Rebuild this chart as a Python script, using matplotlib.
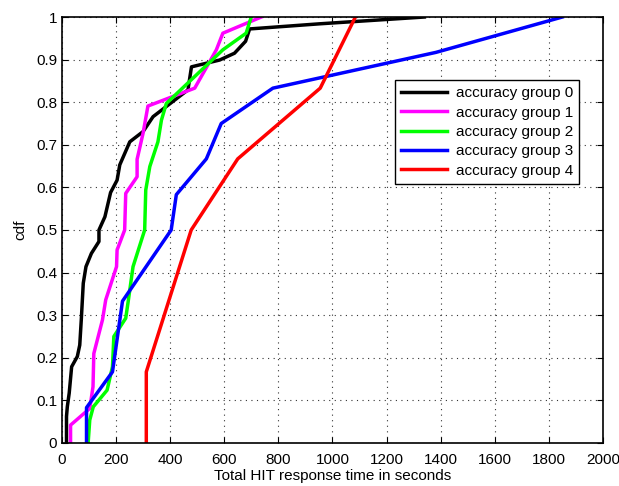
import matplotlib.pyplot as plt

plt.rcParams['font.family'] = ['Liberation Sans', 'DejaVu Sans']

# response time (s) vs cdf for each accuracy group
g0_x = [17, 17, 20, 27, 36, 57, 66, 72, 79, 89, 109, 137, 137, 159, 180, 204, 214, 251, 300, 337, 466, 479, 583, 638, 679, 694, 952, 1340]
g0_y = [0, 0.062, 0.085, 0.117, 0.179, 0.203, 0.23, 0.293, 0.375, 0.414, 0.445, 0.473, 0.5, 0.531, 0.588, 0.617, 0.653, 0.707, 0.731, 0.766, 0.829, 0.883, 0.899, 0.915, 0.943, 0.972, 0.984, 1.0]

g1_x = [32, 32, 103, 115, 118, 150, 162, 202, 204, 232, 236, 278, 278, 300, 318, 491, 571, 595, 737]
g1_y = [0, 0.042, 0.081, 0.132, 0.21, 0.289, 0.336, 0.414, 0.453, 0.5, 0.586, 0.625, 0.666, 0.727, 0.791, 0.833, 0.923, 0.962, 1.0]

g2_x = [97, 103, 116, 167, 187, 192, 236, 245, 263, 306, 310, 325, 355, 368, 386, 595, 681, 700]
g2_y = [0, 0.054, 0.085, 0.124, 0.179, 0.25, 0.293, 0.332, 0.414, 0.5, 0.594, 0.649, 0.707, 0.758, 0.797, 0.923, 0.962, 1.0]

g3_x = [91, 91, 187, 224, 404, 423, 534, 589, 780, 1383, 1850]
g3_y = [0, 0.083, 0.167, 0.333, 0.5, 0.583, 0.667, 0.75, 0.833, 0.917, 1.0]

g4_x = [312, 312, 478, 650, 955, 1085]
g4_y = [0, 0.167, 0.5, 0.667, 0.833, 1.0]

series = [(g0_x, g0_y, 'k'), (g1_x, g1_y, '#ff00ff'), (g2_x, g2_y, '#00ff00'),
          (g3_x, g3_y, '#0000ff'), (g4_x, g4_y, '#ff0000')]

fig = plt.figure(figsize=(6.19, 4.86), dpi=100)
ax = fig.add_axes([0.100, 0.0885, 0.874, 0.8765])

for i, (x, y, c) in enumerate(series):
    ax.plot(x, y, color=c, lw=2.5, label=f'accuracy group {i}')

ax.set_xlim(0, 2000)
ax.set_ylim(0, 1)
ax.set_xticks(range(0, 2001, 200))
ax.set_yticks([i / 10 for i in range(11)])
ax.set_yticklabels(['0', '0.1', '0.2', '0.3', '0.4', '0.5', '0.6', '0.7', '0.8', '0.9', '1'])
ax.tick_params(direction='in', top=True, right=True, labelsize=11, length=4)
ax.tick_params(axis='x', pad=7)
ax.grid(True, linestyle=(0, (1, 4)), color='#333333', lw=0.8)
for s in ax.spines.values():
    s.set_linewidth(1.2)

ax.set_xlabel('Total HIT response time in seconds', fontsize=11, labelpad=2)
ax.set_ylabel('cdf', fontsize=11, labelpad=6)

leg = ax.legend(loc='upper right', bbox_to_anchor=(0.956, 0.852), borderaxespad=0,
                fontsize=11, fancybox=False, framealpha=1, edgecolor='k',
                handlelength=3.0, handletextpad=0.6, labelspacing=0.35, borderpad=0.4)
leg.get_frame().set_linewidth(1.0)

plt.savefig('out.png', dpi=100)
